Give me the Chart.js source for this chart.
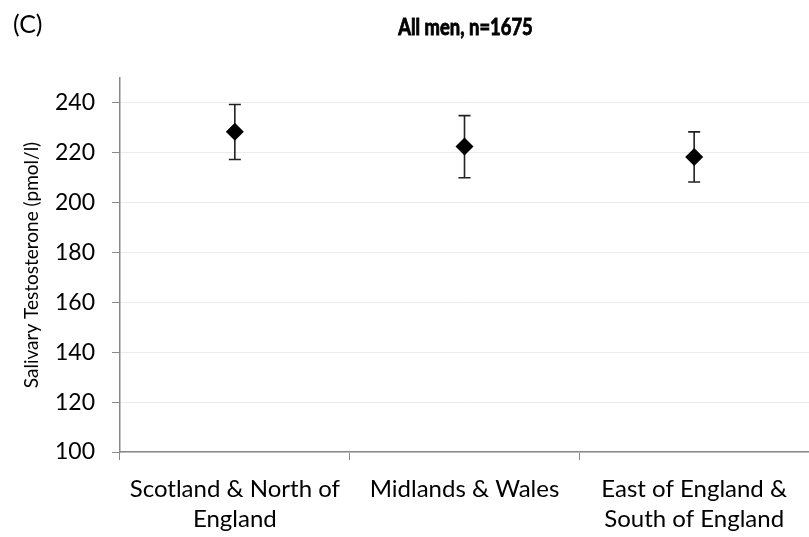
<!DOCTYPE html>
<html>
<head>
<meta charset="utf-8">
<script src="https://cdn.jsdelivr.net/npm/chart.js@4/dist/chart.umd.min.js"></script>
<style>
  html, body { margin: 0; padding: 0; background: #fff; }
  #wrap { width: 809px; height: 537px; }
</style>
</head>
<body>
<div id="wrap"><canvas id="chart"></canvas></div>
<script>
const categories = [
  ['Scotland & North of', 'England'],
  ['Midlands & Wales'],
  ['East of England &', 'South of England']
];
const means = [228.4, 222.5, 218.3];
const upper = [239.4, 234.9, 228.4];
const lower = [217.3, 210.0, 208.3];
const yTicks = [100, 120, 140, 160, 180, 200, 220, 240];

const FONT = 'Lato, "Open Sans", sans-serif';

// error bars under the diamonds
const errorBars = {
  id: 'errorBars',
  beforeDatasetsDraw(chart) {
    const ctx = chart.ctx;
    const x = chart.scales.x;
    const y = chart.scales.y;
    ctx.save();
    ctx.strokeStyle = '#222';
    ctx.lineWidth = 1.6;
    means.forEach((m, i) => {
      const px = x.getPixelForValue(i);
      const top = y.getPixelForValue(upper[i]);
      const bot = y.getPixelForValue(lower[i]);
      ctx.beginPath();
      ctx.moveTo(px, top); ctx.lineTo(px, bot);
      ctx.moveTo(px - 6, top); ctx.lineTo(px + 6, top);
      ctx.moveTo(px - 6, bot); ctx.lineTo(px + 6, bot);
      ctx.stroke();
    });
    ctx.restore();
  }
};

// panel letter and title (title squeezed and thickened, the original face is narrow and heavy)
const headings = {
  id: 'headings',
  afterDraw(chart) {
    const ctx = chart.ctx;
    const area = chart.chartArea;
    ctx.save();
    ctx.fillStyle = '#000';
    ctx.strokeStyle = '#000';
    ctx.textBaseline = 'alphabetic';
    ctx.font = '25px ' + FONT;
    ctx.textAlign = 'left';
    ctx.fillText('(C)', 13, 33);
    ctx.font = 'bold 23px ' + FONT;
    ctx.textAlign = 'center';
    ctx.translate((area.left + area.right) / 2 + 1, 35);
    ctx.scale(0.8, 1);
    ctx.lineWidth = 0.9;
    ctx.fillText('All men, n=1675', 0, 0);
    ctx.strokeText('All men, n=1675', 0, 0);
    ctx.restore();
  }
};

new Chart(document.getElementById('chart'), {
  type: 'line',
  data: {
    labels: categories,
    datasets: [{
      data: means,
      showLine: false,
      pointStyle: 'rectRot',
      pointRadius: 9,
      pointHoverRadius: 9,
      backgroundColor: '#000',
      borderColor: '#000',
      borderWidth: 0
    }]
  },
  options: {
    responsive: true,
    maintainAspectRatio: false,
    animation: false,
    events: [],
    layout: { autoPadding: false, padding: { top: 78, right: 0, left: 0, bottom: 0 } },
    plugins: {
      legend: { display: false },
      tooltip: { enabled: false }
    },
    scales: {
      x: {
        offset: true,
        afterFit(scale) { scale.height = 85; },
        grid: {
          offset: true,
          drawOnChartArea: false,
          tickLength: 8,
          tickColor: '#888'
        },
        border: { color: '#888', width: 1.5 },
        ticks: {
          color: '#000',
          padding: 14,
          maxRotation: 0,
          font: { family: FONT, size: 24, lineHeight: 1.27 }
        }
      },
      y: {
        min: 100,
        max: 250,
        afterFit(scale) { scale.width = 120; },
        afterBuildTicks(scale) {
          scale.ticks = yTicks.map(v => ({ value: v }));
        },
        grid: {
          color: '#ececec',
          tickLength: 8,
          tickColor: '#888'
        },
        border: { color: '#888', width: 1.5 },
        title: {
          display: true,
          text: 'Salivary Testosterone (pmol/l)',
          color: '#000',
          font: { family: FONT, size: 19 },
          padding: { top: 20, bottom: 0 }
        },
        ticks: {
          color: '#000',
          padding: 17,
          font: { family: FONT, size: 23 }
        }
      }
    }
  },
  plugins: [errorBars, headings]
});
</script>
</body>
</html>
